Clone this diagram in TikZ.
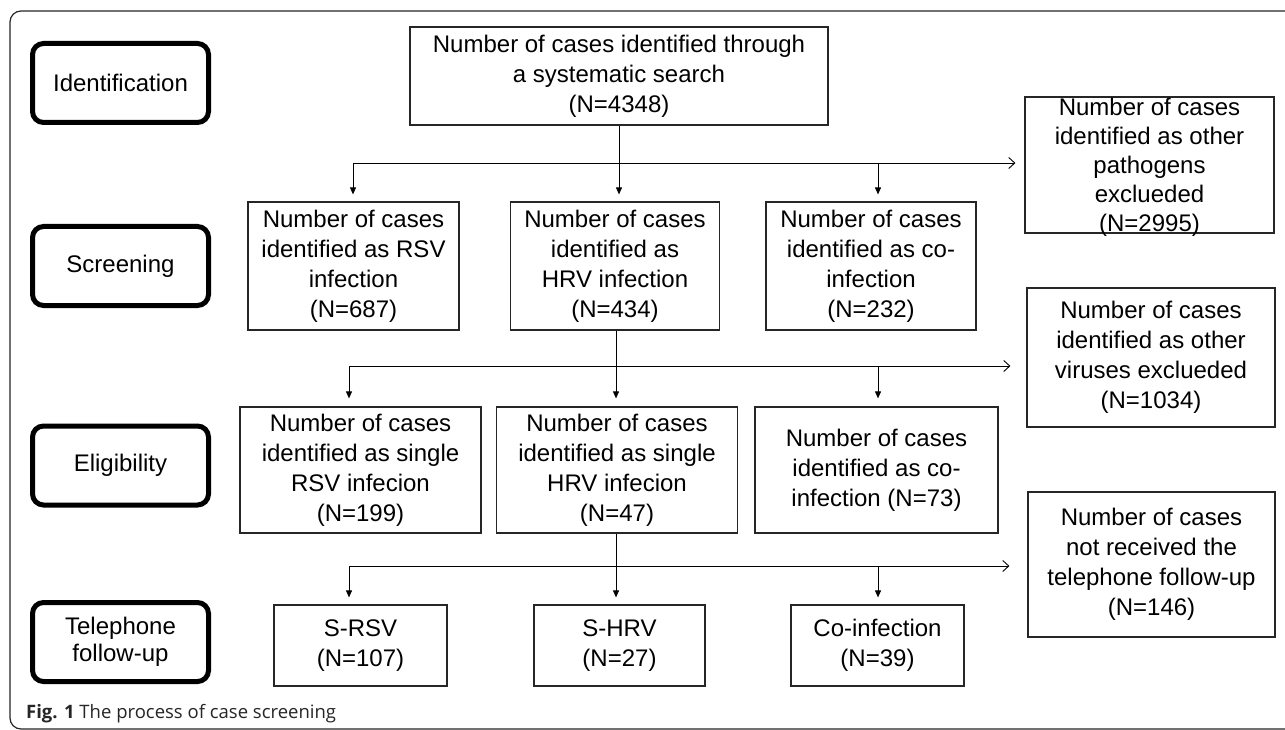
\documentclass[tikz,border=0pt]{standalone}
\usepackage{fontspec}
\setmainfont{Liberation Sans}
\newfontfamily\capfont{Open Sans}
\usetikzlibrary{arrows.meta,calc}
\begin{document}
\begin{tikzpicture}[x=1pt,y=-1pt,
  stage/.style={draw, line width=5pt, rounded corners=11pt, minimum width=176pt, minimum height=79pt, align=center, inner sep=0pt, font=\fontsize{24}{27}\selectfont},
  cbox/.style={draw=black!85, line width=1.2pt, align=center, inner sep=0pt, font=\fontsize{24}{30}\selectfont},
  dar/.style={-{Triangle[length=7pt,width=6pt]}, line width=0.9pt},
  rar/.style={-{Straight Barb[length=6pt,width=11pt]}, line width=0.9pt},
  conn/.style={line width=0.9pt}
]
\useasboundingbox (0,0) rectangle (1285,730);
\clip (0,0) rectangle (1285,730);
\fill[white] (0,0) rectangle (1285,730);
% outer frame
\draw[line width=1.2pt, black!85, rounded corners=11pt] (10,11) rectangle (1300,729);

% stage boxes
\node[stage] (sId)  at (120.5,83)  {Identification};
\node[stage] (sScr) at (120.5,266) {Screening};
\node[stage] (sEl)  at (120.5,465.5) {Eligibility};
\node[stage] (sTel) at (120.5,642) {Telephone\\follow-up};

% top
\node[cbox, minimum width=418pt, minimum height=98pt] (top) at (619,76) {Number of cases identified through\\a systematic search\\(N=4348)};

% screening
\node[cbox, minimum width=211pt, minimum height=128pt] (rsv) at (353.5,266) {Number of cases\\identified as RSV\\infection\\(N=687)};
\node[cbox, minimum width=209pt, minimum height=128pt] (hrv) at (615,266) {Number of cases\\identified as\\HRV infection\\(N=434)};
\node[cbox, minimum width=210pt, minimum height=128pt] (co) at (871,266) {Number of cases\\identified as co-\\infection\\(N=232)};
\node[cbox, minimum width=249pt, minimum height=136pt] (exA) at (1149.5,165) {};
\node[align=center, font=\fontsize{24}{29}\selectfont, inner sep=0pt] (exAt) at (1149.5,167) {Number of cases\\identified as other\\pathogens\\exclueded\\(N=2995)};

% eligibility
\node[cbox, minimum width=241pt, minimum height=126pt] (srsv) at (360.5,470) {Number of cases\\identified as single\\RSV infecion\\(N=199)};
\node[cbox, minimum width=241pt, minimum height=126pt] (shrv) at (617,470) {Number of cases\\identified as single\\HRV infecion\\(N=47)};
\node[cbox, minimum width=243pt, minimum height=126pt] (sco) at (876.5,470) {Number of cases\\identified as co-\\infection (N=73)};
\node[cbox, minimum width=248pt, minimum height=139pt] (exB) at (1151,357.5) {Number of cases\\identified as other\\viruses exclueded\\(N=1034)};

% telephone
\node[cbox, minimum width=173pt, minimum height=81pt] (trsv) at (360.5,645.5) {S-RSV\\(N=107)};
\node[cbox, minimum width=171pt, minimum height=81pt] (thrv) at (619.5,645.5) {S-HRV\\(N=27)};
\node[cbox, minimum width=173pt, minimum height=81pt] (tco) at (877.5,645.5) {Co-infection\\(N=39)};
\node[cbox, minimum width=247pt, minimum height=145pt] (exC) at (1151.5,564.5) {Number of cases\\not received the\\telephone follow-up\\(N=146)};

% level 1 connectors
\coordinate (h1L) at (353,163);
\coordinate (h1C) at (619,163);
\coordinate (h1R) at (878,163);
\draw[conn] (top.south) -- (h1C);
\draw[rar] (h1L) -- ($(exA.west |- h1L)+(-9,0)$);
\draw[dar] (h1L) -- ($(rsv.north -| h1L)+(0,-7)$);
\draw[dar] (h1C) -- ($(hrv.north -| h1C)+(0,-7)$);
\draw[dar] (h1R) -- ($(co.north -| h1R)+(0,-7)$);

% level 2 connectors
\coordinate (h2L) at (349,366);
\coordinate (h2C) at (616,366);
\coordinate (h2R) at (878,366);
\draw[conn] (hrv.south -| h2C) -- (h2C);
\draw[rar] (h2L) -- ($(exB.west |- h2L)+(-16,0)$);
\draw[dar] (h2L) -- ($(srsv.north -| h2L)+(0,-8)$);
\draw[dar] (h2C) -- ($(shrv.north -| h2C)+(0,-8)$);
\draw[dar] (h2R) -- ($(sco.north -| h2R)+(0,-8)$);

% level 3 connectors
\coordinate (h3L) at (349,566);
\coordinate (h3C) at (616,566);
\coordinate (h3R) at (878,566);
\draw[conn] (shrv.south -| h3C) -- (h3C);
\draw[rar] (h3L) -- ($(exC.west |- h3L)+(-18,0)$);
\draw[dar] (h3L) -- ($(trsv.north -| h3L)+(0,-7)$);
\draw[dar] (h3C) -- ($(thrv.north -| h3C)+(0,-7)$);
\draw[dar] (h3R) -- ($(tco.north -| h3R)+(0,-7)$);

% caption
\node[anchor=base west, inner sep=0pt, font=\capfont\fontsize{18.5}{18.5}\selectfont, text=black!85] (cap) at (26,718) {\textbf{Fig. 1} The process of case screening};
\end{tikzpicture}
\end{document}
